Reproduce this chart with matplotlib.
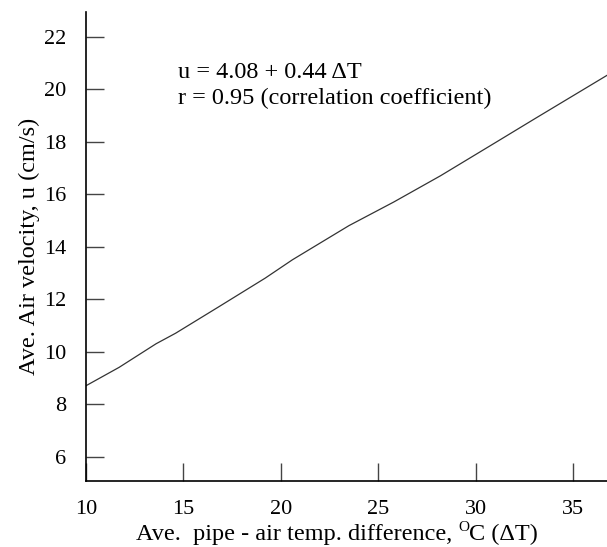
import matplotlib
matplotlib.use('Agg')
import matplotlib.pyplot as plt

# ------------------------ data ------------------------
dT = [10.0, 11.7, 13.6, 14.6, 16.8, 19.2, 20.6, 23.5, 25.8, 28.2, 31.1, 33.1, 36.8]
u = [8.7, 9.4, 10.3, 10.7, 11.7, 12.8, 13.5, 14.8, 15.7, 16.7, 18.0, 18.9, 20.55]
xticks = [10, 15, 20, 25, 30, 35]
yticks = [6, 8, 10, 12, 14, 16, 18, 20, 22]

plt.rcParams['font.family'] = ['Liberation Serif', 'DejaVu Serif']

fig = plt.figure(figsize=(6.07, 5.47), dpi=100)
ax = fig.add_axes([0.1417, 0.1207, 0.8583, 0.8573])

ax.plot(dT, u, color='#333333', lw=0.9)

ax.set_xlim(10, 36.75)
ax.set_ylim(5.07, 22.94)
ax.set_xticks(xticks)
ax.set_yticks(yticks)
ax.tick_params(direction='in', length=13, width=1, color='#444444',
               labelsize=16)
ax.tick_params(axis='y', pad=14)
ax.tick_params(axis='x', pad=14)

for s in ['top', 'right']:
    ax.spines[s].set_visible(False)
for s in ['left', 'bottom']:
    ax.spines[s].set_linewidth(1.2)

ax.set_ylabel('Ave. Air velocity, u (cm/s)', fontsize=17.5, labelpad=3)

ax.text(14.7, 20.65, 'u = 4.08 + 0.44 ΔT', fontsize=17.5, va='center')
ax.text(14.7, 19.66, 'r = 0.95 (correlation coefficient)', fontsize=17.5, va='center')

# x label in three pieces (superscript O), centred by hand
W = fig.bbox.width
base = 0.013
fig.canvas.draw()
r = fig.canvas.get_renderer()
t1 = fig.text(0, base, 'Ave.  pipe - air temp. difference, ', fontsize=17.5, va='baseline')
w1 = t1.get_window_extent(r).width
t2 = fig.text(w1 / W, base + 0.017, 'O', fontsize=11, va='baseline')
w2 = t2.get_window_extent(r).width
t3 = fig.text((w1 + w2) / W, base, 'C (ΔT)', fontsize=17.5, va='baseline')
w3 = t3.get_window_extent(r).width
x0 = 0.555 - (w1 + w2 + w3) / 2 / W
t1.set_x(x0)
t2.set_x(x0 + w1 / W)
t3.set_x(x0 + (w1 + w2) / W)

fig.savefig('out.png', dpi=100)
